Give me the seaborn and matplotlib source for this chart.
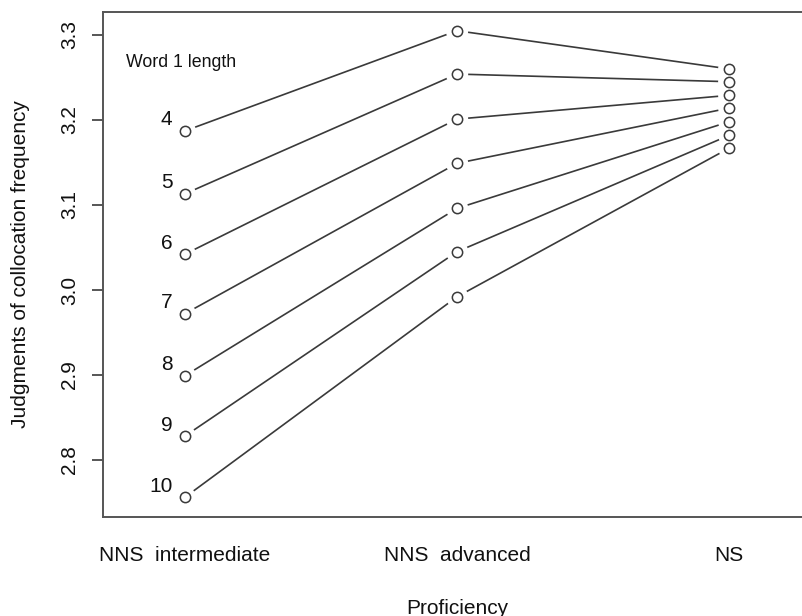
import matplotlib
matplotlib.use("Agg")
import matplotlib.pyplot as plt
import pandas as pd
import seaborn as sns

proficiency = ["NNS  intermediate", "NNS  advanced", "NS"]
word_lengths = ["4", "5", "6", "7", "8", "9", "10"]
nns_intermediate = [3.187, 3.113, 3.042, 2.972, 2.899, 2.828, 2.756]
nns_advanced = [3.305, 3.254, 3.201, 3.149, 3.096, 3.045, 2.992]
ns = [3.260, 3.245, 3.229, 3.214, 3.198, 3.182, 3.167]
y_ticks = [2.8, 2.9, 3.0, 3.1, 3.2, 3.3]

rows = []
for i, wl in enumerate(word_lengths):
    for pos, vals in enumerate([nns_intermediate, nns_advanced, ns]):
        rows.append({"word_length": wl, "pos": pos, "score": vals[i]})
df = pd.DataFrame(rows)

sns.set_style("white")
plt.rcParams["font.family"] = ["Liberation Sans", "DejaVu Sans"]
ink = "#3a3a3a"
txt = "#111"

fig = plt.figure(figsize=(8.03, 6.16), dpi=100)
W, H = 803, 616
ax = fig.add_axes([103 / W, 1 - 517 / H, 708 / W, 505 / H])

sns.lineplot(data=df, x="pos", y="score", units="word_length", estimator=None,
             color=ink, linewidth=1.2, ax=ax, zorder=1)
# white halo so the lines stop short of the points, like R's type="b"
sns.scatterplot(data=df, x="pos", y="score", s=260, color="white",
                edgecolor="none", ax=ax, zorder=2)
sns.scatterplot(data=df, x="pos", y="score", s=55, facecolor="white",
                edgecolor=ink, linewidth=1.1, ax=ax, zorder=3)

for wl, v in zip(word_lengths, nns_intermediate):
    ax.text(-0.045, v + 0.013, wl, ha="right", va="center", fontsize=15, color=txt)
ax.text(-0.215, 3.268, "Word 1 length", ha="left", va="center", fontsize=12.8, color=txt)

ax.set_xlim(-0.3, 2.3)
ax.set_ylim(2.733, 3.327)
ax.set_xticks([0, 1, 2])
ax.set_xticklabels(proficiency)
ax.set_yticks(y_ticks)
ax.set_yticklabels([f"{t:.1f}" for t in y_ticks], rotation=90, va="center")
ax.tick_params(axis="x", length=0, pad=21, labelsize=15, labelcolor=txt)
ax.tick_params(axis="y", length=8, width=1.2, color=ink, pad=9, left=True,
               labelsize=15, labelcolor=txt)
ax.set_xlabel("Proficiency", fontsize=15, labelpad=24, color=txt)
ax.set_ylabel("Judgments of collocation frequency", fontsize=15, labelpad=22, color=txt)
for sp in ax.spines.values():
    sp.set_color("#555")
    sp.set_linewidth(1.4)

fig.savefig("out.png", dpi=100)
